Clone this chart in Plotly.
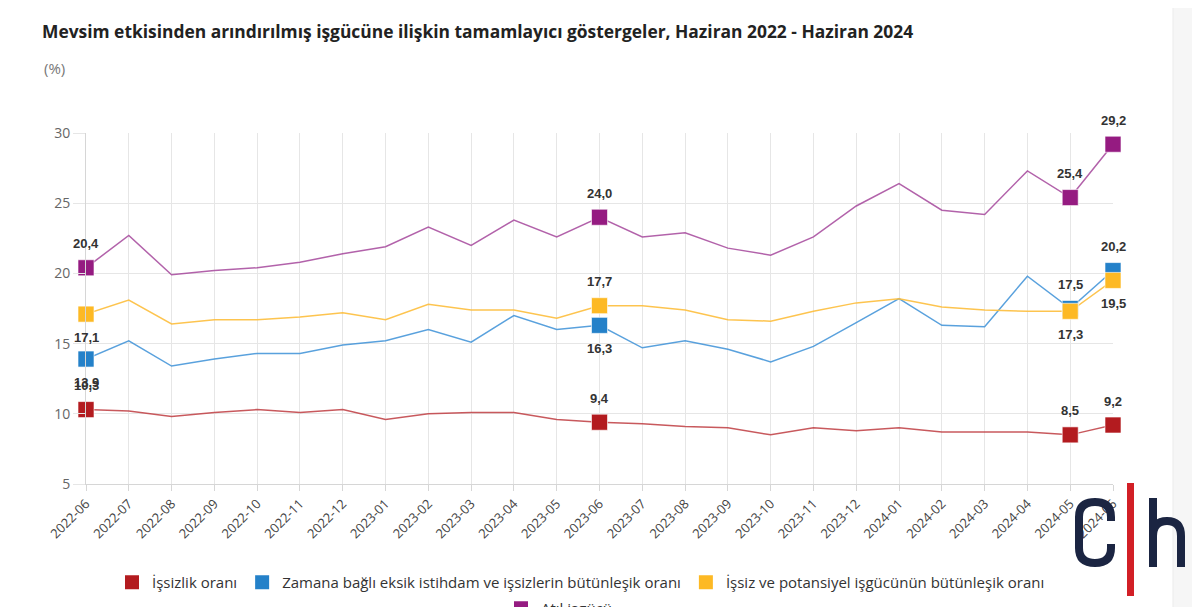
import plotly.graph_objects as go

months = ["2022-06", "2022-07", "2022-08", "2022-09", "2022-10", "2022-11", "2022-12",
          "2023-01", "2023-02", "2023-03", "2023-04", "2023-05", "2023-06", "2023-07",
          "2023-08", "2023-09", "2023-10", "2023-11", "2023-12", "2024-01", "2024-02",
          "2024-03", "2024-04", "2024-05", "2024-06"]

issizlik = [10.3, 10.2, 9.8, 10.1, 10.3, 10.1, 10.3, 9.6, 10.0, 10.1, 10.1, 9.6, 9.4,
            9.3, 9.1, 9.0, 8.5, 9.0, 8.8, 9.0, 8.7, 8.7, 8.7, 8.5, 9.2]
zamana = [13.9, 15.2, 13.4, 13.9, 14.3, 14.3, 14.9, 15.2, 16.0, 15.1, 17.0, 16.0, 16.3,
          14.7, 15.2, 14.6, 13.7, 14.8, 16.5, 18.2, 16.3, 16.2, 19.8, 17.5, 20.2]
potansiyel = [17.1, 18.1, 16.4, 16.7, 16.7, 16.9, 17.2, 16.7, 17.8, 17.4, 17.4, 16.8, 17.7,
              17.7, 17.4, 16.7, 16.6, 17.3, 17.9, 18.2, 17.6, 17.4, 17.3, 17.3, 19.5]
atil = [20.4, 22.7, 19.9, 20.2, 20.4, 20.8, 21.4, 21.9, 23.3, 22.0, 23.8, 22.6, 24.0,
        22.6, 22.9, 21.8, 21.3, 22.6, 24.8, 26.4, 24.5, 24.2, 27.3, 25.4, 29.2]

names = ["İşsizlik oranı",
         "Zamana bağlı eksik istihdam ve işsizlerin bütünleşik oranı",
         "İşsiz ve potansiyel işgücünün bütünleşik oranı",
         "Atıl işgücü"]

highlight = [0, 12, 23, 24]

# label placement (1 = above, -1 = below) for highlighted points
label_side = {
    0: [1, 1, 1, 1],
    1: [-1, -1, 1, 1],
    2: [-1, 1, -1, -1],
    3: [1, 1, 1, 1],
}

colors = ["#B31B1F", "#2481C9", "#FDB924", "#951B81"]
line_colors = ["rgba(190,60,65,0.85)", "rgba(60,145,215,0.85)",
               "rgba(253,190,60,0.9)", "rgba(165,70,155,0.85)"]
series = [issizlik, zamana, potansiyel, atil]

fig = go.Figure()

for vals, col in zip(series, line_colors):
    fig.add_trace(go.Scatter(
        x=months, y=vals, mode="lines",
        line=dict(color=col, width=1.5),
        showlegend=False, hoverinfo="skip", cliponaxis=False,
    ))

for vals, col in zip(series, colors):
    fig.add_trace(go.Scatter(
        x=[months[k] for k in highlight], y=[vals[k] for k in highlight],
        mode="markers",
        marker=dict(symbol="square", size=16, color=col,
                    line=dict(width=1, color="rgba(255,255,255,0.6)")),
        showlegend=False, cliponaxis=False,
    ))

# legend entries
for i, (nm, col) in enumerate(zip(names, colors)):
    fig.add_trace(go.Scatter(
        x=[None], y=[None], mode="markers", name=nm,
        marker=dict(symbol="square", size=14, color=col),
        legend="legend" if i < 3 else "legend2",
    ))

annotations = []
for i, vals in enumerate(series):
    for j, k in enumerate(highlight):
        side = label_side[i][j]
        annotations.append(dict(
            x=months[k], y=vals[k], xref="x", yref="y",
            text=f"{vals[k]:.1f}".replace(".", ","),
            showarrow=False, yshift=24 if side > 0 else -23,
            font=dict(family="Liberation Sans", size=13, color="#333333", weight="bold"),
        ))

# page offset (body margin) compensation
OFF = 8
W, H = 1200, 640
L, R, T, B = 86, 1113, 133, 484


def px(x):
    return (x - L) / (R - L)


def py(y):
    return (B - y) / (B - T)


annotations.append(dict(
    xref="paper", yref="paper", x=px(42), y=py(68), xanchor="left", yanchor="middle",
    text="(%)", showarrow=False, font=dict(family="Open Sans", size=15, color="#777777"),
))

navy = "#1B2542"

c_path = ("M {a},{b} L {a},{c} Q {a},{d} {e},{d} Q {f},{d} {f},{c} L {f},{g} "
          "Q {f},{h} {e},{h} Q {a},{h} {a},{g} L {a},{i}").format(
    a=px(1111), b=py(521), c=py(517), d=py(502), e=px(1095), f=px(1079),
    g=py(548), h=py(563), i=py(544))
h_path = ("M {s},{t} L {s},{u} M {s},{v} Q {s},{w} {m},{w} Q {r},{w} {r},{v} L {r},{u}").format(
    s=px(1153), t=py(498), u=py(567), v=py(536), w=py(521), m=px(1167), r=px(1181))

shapes = [
    dict(type="rect", xref="paper", yref="paper", x0=px(1173), x1=px(1215),
         y0=py(-10), y1=py(650), fillcolor="#F6F6F6", line=dict(width=0), layer="below"),
    dict(type="line", xref="paper", yref="paper", x0=px(1173), x1=px(1173),
         y0=py(-10), y1=py(650), line=dict(color="#EBEBEB", width=1), layer="below"),
    dict(type="path", xref="paper", yref="paper", path=c_path,
         line=dict(color=navy, width=8), layer="above"),
    dict(type="rect", xref="paper", yref="paper", x0=px(1127), x1=px(1134),
         y0=py(596), y1=py(483), fillcolor="#D21F26", line=dict(width=0), layer="above"),
    dict(type="path", xref="paper", yref="paper", path=h_path,
         line=dict(color=navy, width=8), layer="above"),
]

fig.update_layout(
    width=W, height=H,
    margin=dict(l=L - OFF, r=W - (R - OFF), t=T - OFF, b=H - (B - OFF), autoexpand=False),
    paper_bgcolor="white", plot_bgcolor="white",
    title=dict(
        text="Mevsim etkisinden arındırılmış işgücüne ilişkin tamamlayıcı göstergeler, Haziran 2022 - Haziran 2024",
        x=(42 - OFF) / W, xanchor="left", xref="container",
        y=1 - (32 - OFF) / H, yanchor="middle", yref="container",
        font=dict(family="Open Sans", size=17.4, color="#222222", weight="bold"),
    ),
    xaxis=dict(
        type="category", range=[0, len(months) - 1],
        showgrid=True, gridcolor="#E6E6E6", gridwidth=1,
        showline=True, linecolor="#D6D6D6", linewidth=1,
        ticks="outside", ticklen=6, tickcolor="#D6D6D6",
        tickangle=-45, tickfont=dict(family="Open Sans", size=13, color="#444444"),
        zeroline=False, fixedrange=True, automargin=False,
    ),
    yaxis=dict(
        range=[5, 30], dtick=5, tick0=5,
        showgrid=True, gridcolor="#E6E6E6", gridwidth=1,
        showline=True, linecolor="#D6D6D6", linewidth=1,
        ticks="outside", ticklen=12, tickcolor="#E6E6E6",
        tickfont=dict(family="Open Sans", size=14, color="#666666"),
        zeroline=False, fixedrange=True, automargin=False,
    ),
    legend=dict(
        orientation="h", x=px(581), xanchor="center", y=py(566), yanchor="top",
        font=dict(family="Open Sans", size=15, color="#333333"),
        itemwidth=30, bgcolor="rgba(0,0,0,0)",
    ),
    legend2=dict(
        orientation="h", x=px(559), xanchor="center", y=py(592), yanchor="top",
        font=dict(family="Open Sans", size=15, color="#333333"),
        itemwidth=30, bgcolor="rgba(0,0,0,0)",
    ),
    annotations=annotations,
    shapes=shapes,
)

fig.write_html("out.html")
